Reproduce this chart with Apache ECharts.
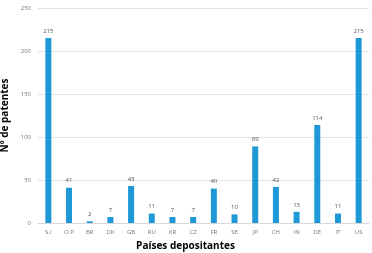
<!DOCTYPE html>
<html>
<head>
<meta charset="utf-8">
<script src="https://cdn.jsdelivr.net/npm/echarts@6/dist/echarts.min.js"></script>
<style>
  html, body { margin: 0; padding: 0; background: #fff; }
  #chart { width: 372px; height: 253px; }
</style>
</head>
<body>
<div id="chart"></div>
<script>
const countries = ["S.I", "O.P", "BR", "DK", "GB", "RU", "KR", "CZ", "FR", "SE", "JP", "CH", "IN", "DE", "IT", "US"];
const patents = [215, 41, 2, 7, 43, 11, 7, 7, 40, 10, 89, 42, 13, 114, 11, 215];

const chart = echarts.init(document.getElementById("chart"));

chart.setOption({
  animation: false,
  backgroundColor: "#fff",
  grid: { left: 38, right: 3, top: 8, bottom: 30, containLabel: false, outerBoundsMode: "none" },
  xAxis: {
    type: "category",
    data: countries,
    name: "Países depositantes",
    nameLocation: "middle",
    nameGap: 18,
    nameTextStyle: {
      color: "#000",
      fontFamily: "Open Sans",
      fontWeight: "bold",
      fontSize: 10,
      padding: [0, 36, 0, 0]
    },
    axisLine: { lineStyle: { color: "#d9d9d9" } },
    axisTick: { show: false },
    axisLabel: { color: "#777", fontSize: 6, fontFamily: "Open Sans", margin: 6, interval: 0 }
  },
  yAxis: {
    type: "value",
    min: 0,
    max: 250,
    interval: 50,
    name: "Nº de patentes",
    nameLocation: "middle",
    nameGap: 23,
    nameTextStyle: {
      color: "#000",
      fontFamily: "Open Sans",
      fontWeight: "bold",
      fontSize: 10
    },
    axisLine: { show: false },
    axisTick: { show: false },
    axisLabel: { color: "#777", fontSize: 6, fontFamily: "Open Sans", margin: 7 },
    splitLine: { lineStyle: { color: "#e3e3e3" } }
  },
  series: [
    {
      type: "bar",
      data: patents,
      barWidth: 6,
      itemStyle: { color: "#1e98d6" },
      label: {
        show: true,
        position: "top",
        distance: 4,
        color: "#555",
        fontSize: 6,
        fontFamily: "Open Sans"
      }
    }
  ]
});
</script>
</body>
</html>
